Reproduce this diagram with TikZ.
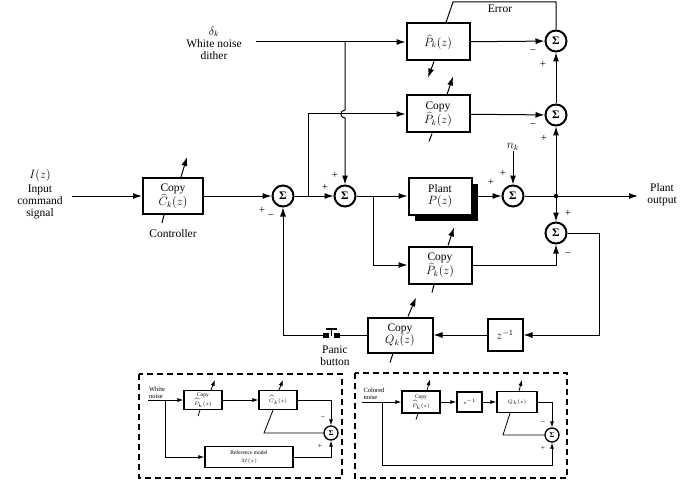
\documentclass[tikz,border=0pt]{standalone}
\usepackage{fontspec}
\setmainfont{Liberation Serif}
\usetikzlibrary{arrows.meta,calc,shadows,positioning}

\begin{document}
\begin{tikzpicture}[
    x=1pt, y=-1pt,
    font=\fontsize{11.5}{12.5}\selectfont,
    box/.style={rectangle, draw, line width=2pt, fill=white, align=center, inner sep=1pt, minimum width=63, minimum height=37},
    minibox/.style={rectangle, draw, line width=1.3pt, fill=white, align=center, inner sep=0pt, font=\fontsize{5.5}{8}\selectfont},
    summer/.style={circle, draw, line width=2pt, minimum size=21, inner sep=0pt, font=\fontsize{11.5}{12}\selectfont\bfseries},
    minisum/.style={circle, draw, line width=1.3pt, minimum size=14, inner sep=0pt, font=\fontsize{7.5}{8}\selectfont\bfseries},
    sgn/.style={inner sep=0pt, font=\fontsize{11}{11}\selectfont},
    minisgn/.style={inner sep=0pt, font=\fontsize{7.5}{7.5}\selectfont},
    lbl/.style={align=center, inner sep=0pt, font=\fontsize{11.5}{12}\selectfont},
    minilbl/.style={align=left, inner sep=0pt, font=\fontsize{6.5}{7.5}\selectfont},
    arrow/.style={-{Latex[length=9pt,width=6pt]}, line width=1pt},
    miniarrow/.style={-{Latex[length=6pt,width=4pt]}, line width=0.8pt},
    wire/.style={line width=1pt},
    thinwire/.style={line width=0.8pt},
    dashbox/.style={draw, line width=1.5pt, dash pattern=on 6pt off 4pt}
]
    \useasboundingbox (0,0) rectangle (685,492);

    % Blocks of the main loop
    \node[box, minimum width=60, minimum height=36] (ctrl) at (173,196) {Copy\\$\widehat{C}_k(z)$};
    \node[lbl] (ctrllbl) at (173,234) {Controller};
    \node[box] (phat) at (438,42) {$\widehat{P}_k(z)$};
    \node[box] (pcopy1) at (438,114) {Copy\\$\widehat{P}_k(z)$};
    \node[box, drop shadow={shadow xshift=6pt, shadow yshift=-6pt, opacity=1, fill=black}] (plant) at (440,196) {Plant\\$P(z)$};
    \node[box] (pcopy2) at (440,265) {Copy\\$\widehat{P}_k(z)$};
    \node[box, minimum width=65, minimum height=35] (qcopy) at (400,335) {Copy\\$Q_k(z)$};
    \node[box, minimum width=35, minimum height=32] (delay) at (505,335) {$z^{-1}$};

    % Summers
    \node[summer] (sum1) at (283,196) {Σ};
    \node[summer] (sum2) at (345,196) {Σ};
    \node[summer] (sumn) at (513,196) {Σ};
    \node[summer] (sume) at (556,41) {Σ};
    \node[summer] (sumc) at (556,115) {Σ};
    \node[summer] (sumd) at (556,233) {Σ};

    % Labels
    \node[lbl] (inlbl) at (40,194) {$I(z)$\\[2pt]Input\\command\\signal};
    \node[lbl] (dithlbl) at (214,43) {$\delta_k$\\White noise\\dither};
    \node[lbl] (errlbl) at (500,9) {Error};
    \node[lbl] (nk) at (513,147) {$n_k$};
    \node[lbl] (outlbl) at (662,195) {Plant\\output};
    \node[lbl] (paniclbl) at (335,356) {Panic\\button};

    % Signs
    \node[sgn] (s1p) at (262,210) {+};
    \node[sgn] (s1m) at (271,217) {−};
    \node[sgn] (s2a) at (325,187) {+};
    \node[sgn] (s2b) at (335,175) {+};
    \node[sgn] (sna) at (491,182) {+};
    \node[sgn] (snb) at (503,173) {+};
    \node[sgn] (sem) at (533,52) {−};
    \node[sgn] (sep) at (543,64) {+};
    \node[sgn] (scm) at (533,126) {−};
    \node[sgn] (scp) at (544,138) {+};
    \node[sgn] (sdp) at (568,213) {+};
    \node[sgn] (sdm) at (568,255) {−};

    % Forward path
    \coordinate (inp) at (72,196);
    \draw[arrow] (inp) -- (ctrl);
    \draw[arrow] (ctrl) -- (sum1);
    \draw[arrow] (sum1) -- (sum2);
    \coordinate (br1) at (308,196);
    \draw[arrow] (br1) |- (pcopy1);
    \coordinate (dith) at (256,42);
    \draw[arrow] (dith) -- (phat);
    \coordinate (hop) at (345,110);
    \draw[arrow] (sum2 |- dith) -- (hop) .. controls (339.5,110) and (339.5,118) .. (345,118) -- (sum2);
    \draw[arrow] (sum2) -- (plant);
    \coordinate (br2) at (373,196);
    \draw[arrow] (br2) |- (pcopy2);
    \draw[arrow] (plant) -- (sumn);
    \draw[arrow] (nk) -- (sumn);
    \coordinate (jn) at (556,196);
    \coordinate (outp) at (638,196);
    \draw[arrow] (sumn) -- (outp);
    \fill (jn) circle (2.2pt);
    \draw[arrow] (jn) -- (sumc);
    \draw[arrow] (jn) -- (sumd);
    \draw[arrow] (sumc) -- (sume);
    \draw[arrow] (phat) -- (sume);
    \draw[arrow] (pcopy1) -- (sumc);
    \draw[arrow] (pcopy2) -| (sumd);

    % Feedback path
    \coordinate (rc) at (599,335);
    \draw[arrow] (sumd) -| (rc) -- (delay);
    \draw[arrow] (delay) -- (qcopy);
    \coordinate (pbr) at (340,335);
    \coordinate (pbl) at (323,335);
    \draw[wire] (qcopy) -- (pbr);
    \draw[arrow] (pbl) -| (sum1);
    % Panic button
    \fill (323,332.5) rectangle (329,338);
    \fill (334,332.5) rectangle (340,338);
    \draw[line width=1.8pt] (331.5,336) -- (331.5,329) (326,329) -- (337,329);

    % Adaptive arrows
    \coordinate (errc) at (453,2);
    \draw[wire] (sume) -- (sume |- errc) -- (errc) -- ($(phat.north)+(8,0)$);
    \draw[arrow] ($(phat.south)+(-4,0)$) -- ++(-6,16);
    \draw[arrow] ($(pcopy1.north)+(9,0)$) -- ++(6,-18);
    \draw[wire] ($(pcopy1.south)+(-6,0)$) -- ++(-3,8);
    \draw[arrow] ($(ctrl.north)+(8,0)$) -- ++(6,-20);
    \draw[wire] ($(ctrl.south)+(-9,0)$) -- ++(-2,8);
    \draw[arrow] ($(pcopy2.north)+(8,0)$) -- ++(6,-18);
    \draw[wire] ($(pcopy2.south)+(-6,0)$) -- ++(-2,8);
    \draw[arrow] ($(qcopy.north)+(8,0)$) -- ++(8,-19);
    \draw[wire] ($(qcopy.south)+(-7,0)$) -- ++(-3,9);

    % Inset: adapting the controller
    \draw[dashbox] (139,374) rectangle (342,478);
    \node[minilbl] (wn) at (157,393) {White\\noise};
    \node[minibox, minimum width=38, minimum height=19] (cpl) at (203,400) {Copy\\$\widehat{P}_k(z)$};
    \node[minibox, minimum width=38, minimum height=19] (chl) at (278,400) {$\widehat{C}_k(z)$};
    \node[minibox, minimum width=88, minimum height=21] (refm) at (249,457) {Reference model\\$M(z)$};
    \node[minisum] (suml) at (331,433) {Σ};
    \node[minisgn] (slm) at (323,418) {−};
    \node[minisgn] (slp) at (320,446) {+};
    \coordinate (inl) at (148,400);
    \coordinate (brl) at (165,400);
    \draw[miniarrow] (inl) -- (cpl);
    \draw[miniarrow] (cpl) -- (chl);
    \draw[miniarrow] (chl) -| (suml);
    \draw[miniarrow] (brl) |- (refm);
    \draw[miniarrow] (refm) -| (suml);
    \coordinate (cornl) at (264,433);
    \draw[thinwire] (suml) -- (cornl) -- ($(chl.south)+(-5,0)$);
    \draw[miniarrow] ($(cpl.north)+(8,0)$) -- ++(4,-10);
    \draw[thinwire] ($(cpl.south)+(-3,0)$) -- ++(-2,6);
    \draw[miniarrow] ($(chl.north)+(1,0)$) -- ++(4,-10);

    % Inset: adapting the noise canceller
    \draw[dashbox] (355,373) rectangle (567,478);
    \node[minilbl] (cn) at (374,394) {Colored\\noise};
    \node[minibox, minimum width=38, minimum height=22] (cpr) at (421,402) {Copy\\$\widehat{P}_k(z)$};
    \node[minibox, minimum width=25, minimum height=20] (zr) at (469.5,402) {$z^{-1}$};
    \node[minibox, minimum width=40, minimum height=21] (qr) at (517,402) {$Q_k(z)$};
    \node[minisum] (sumr) at (552,435) {Σ};
    \node[minisgn] (srm) at (543,423) {−};
    \node[minisgn] (srp) at (543,448) {+};
    \coordinate (inr) at (362,402);
    \coordinate (brr) at (382,402);
    \coordinate (botr) at (382,465);
    \draw[miniarrow] (inr) -- (cpr);
    \draw[miniarrow] (cpr) -- (zr);
    \draw[miniarrow] (zr) -- (qr);
    \draw[miniarrow] (qr) -| (sumr);
    \draw[miniarrow] (brr) -- (botr) -| (sumr);
    \coordinate (cornr) at (503,435);
    \draw[thinwire] (sumr) -- (cornr) -- ($(qr.south)+(-7,0)$);
    \draw[miniarrow] ($(cpr.north)+(6,0)$) -- ++(3,-11);
    \draw[thinwire] ($(cpr.south)+(-3,0)$) -- ++(-2,6);
    \draw[miniarrow] ($(qr.north)+(2,0)$) -- ++(3,-11);
\end{tikzpicture}
\end{document}
